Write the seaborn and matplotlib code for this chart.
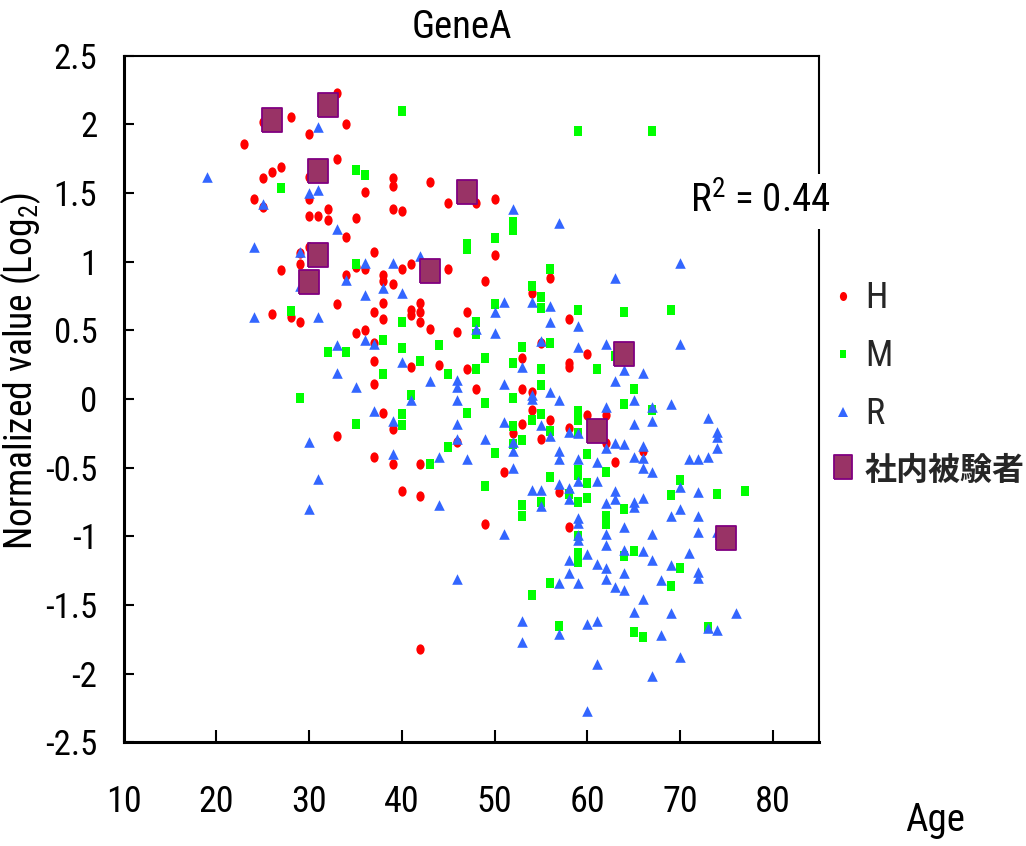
import numpy as np
import pandas as pd
import matplotlib
matplotlib.use("Agg")
import matplotlib.pyplot as plt
import seaborn as sns
from matplotlib.path import Path
from matplotlib.markers import MarkerStyle
from matplotlib.transforms import Affine2D
from matplotlib.lines import Line2D
from matplotlib.ticker import FuncFormatter
from matplotlib import font_manager as fm

# ---------------- data ----------------
h_age = [33, 25, 28, 34, 30, 23, 33, 30, 27, 26, 25, 30, 24, 25, 30, 31, 32, 32, 35, 34,
         30, 29, 29, 27, 35, 34, 26, 28, 29, 33, 35, 33, 39, 39, 36, 43, 48, 45, 50, 39,
         40, 50, 37, 36, 40, 41, 45, 38, 38, 39, 49, 56, 54, 38, 37, 38, 42, 41, 41, 42,
         42, 43, 47, 36, 46, 58, 37, 53, 55, 60, 37, 41, 44, 47, 58, 58, 37, 48, 53, 54,
         38, 39, 46, 53, 52, 54, 56, 55, 58, 60, 39, 37, 42, 51, 57, 40, 42, 49, 58, 42,
         62, 62, 66, 63]
h_val = [2.23, 2.02, 2.05, 2.00, 1.93, 1.86, 1.75, 1.62, 1.69, 1.65, 1.61, 1.46, 1.46, 1.40,
         1.33, 1.33, 1.38, 1.30, 1.32, 1.18, 1.11, 1.06, 0.98, 0.94, 0.96, 0.90, 0.62, 0.60,
         0.56, 0.69, 0.48, -0.27, 1.61, 1.55, 1.51, 1.58, 1.43, 1.43, 1.46, 1.38, 1.37, 1.05,
         1.07, 0.95, 0.95, 0.98, 0.95, 0.90, 0.86, 0.84, 0.86, 0.88, 0.77, 0.70, 0.63, 0.58,
         0.70, 0.65, 0.61, 0.63, 0.56, 0.51, 0.63, 0.50, 0.49, 0.58, 0.41, 0.30, 0.41, 0.33,
         0.28, 0.23, 0.25, 0.22, 0.26, 0.23, 0.11, 0.07, 0.07, 0.05, -0.10, -0.22, -0.31, -0.18,
         -0.25, -0.08, -0.15, -0.29, -0.21, -0.12, -0.47, -0.42, -0.47, -0.53, -0.68, -0.67,
         -0.71, -0.91, -0.93, -1.82, -0.12, -0.32, -0.38, -0.46]

m_age = [35, 27, 35, 28, 32, 34, 29, 35, 40, 59, 36, 52, 52, 50, 47, 47, 56, 54, 67, 55,
         55, 59, 50, 40, 48, 48, 38, 40, 44, 53, 56, 42, 49, 48, 52, 55, 38, 45, 52, 55,
         41, 49, 40, 40, 47, 45, 52, 52, 53, 54, 55, 56, 59, 59, 59, 43, 50, 60, 59, 59,
         56, 58, 60, 60, 59, 55, 49, 53, 53, 64, 69, 63, 61, 65, 64, 67, 62, 64, 70, 69,
         74, 77, 62, 62, 64, 65, 70, 69, 65, 66, 73, 59, 59, 59, 56, 54, 57]
m_val = [1.67, 1.54, 0.98, 0.64, 0.34, 0.34, 0.01, -0.18, 2.10, 1.95, 1.63, 1.29, 1.23, 1.17,
         1.13, 1.09, 0.95, 0.82, 1.95, 0.74, 0.66, 0.65, 0.69, 0.56, 0.56, 0.47, 0.43, 0.37,
         0.39, 0.38, 0.41, 0.28, 0.30, 0.22, 0.26, 0.22, 0.18, 0.18, 0.01, 0.10, 0.03, -0.03,
         -0.11, -0.19, -0.10, -0.35, -0.20, -0.33, -0.30, -0.15, -0.11, -0.23, -0.09, -0.15,
         -0.25, -0.47, -0.39, -0.40, -0.52, -0.55, -0.57, -0.69, -0.61, -0.72, -0.75, -0.75,
         -0.63, -0.77, -0.85, 0.63, 0.65, 0.31, 0.22, 0.07, -0.04, -0.08, -0.53, -0.80, -0.59,
         -0.70, -0.69, -0.67, -0.85, -0.91, -1.14, -1.11, -1.23, -1.36, -1.70, -1.73, -1.66,
         -1.00, -1.12, -1.19, -1.34, -1.43, -1.65]

r_age = [31, 19, 30, 31, 25, 33, 24, 29, 34, 29, 24, 31, 33, 33, 35, 30, 31, 30, 52, 57,
         36, 39, 42, 70, 63, 36, 38, 40, 54, 56, 51, 50, 48, 50, 56, 59, 36, 37, 55, 59,
         40, 53, 43, 46, 46, 51, 54, 54, 56, 57, 41, 46, 37, 39, 46, 46, 49, 51, 52, 52,
         55, 56, 58, 59, 39, 44, 47, 52, 57, 57, 59, 57, 54, 55, 58, 58, 59, 55, 44, 59,
         62, 64, 66, 70, 63, 65, 62, 67, 67, 69, 65, 62, 63, 64, 66, 65, 66, 66, 67, 61,
         73, 74, 74, 74, 71, 72, 73, 61, 63, 63, 62, 65, 65, 66, 70, 72, 70, 69, 72, 62,
         62, 64, 67, 72, 74, 60, 64, 66, 67, 71, 61, 62, 62, 64, 63, 64, 69, 68, 72, 72,
         66, 65, 69, 76, 60, 61, 68, 73, 74, 61, 70, 67, 60, 59, 59, 59, 51, 58, 58, 46,
         57, 59, 53, 53, 57]
r_val = [1.98, 1.62, 1.50, 1.52, 1.42, 1.24, 1.11, 1.07, 0.87, 0.82, 0.60, 0.60, 0.39, 0.19,
         0.09, -0.31, -0.58, -0.80, 1.38, 1.28, 0.99, 0.99, 1.04, 0.99, 0.88, 0.76, 0.81, 0.77,
         0.71, 0.68, 0.71, 0.63, 0.51, 0.48, 0.56, 0.53, 0.43, 0.40, 0.42, 0.38, 0.27, 0.23,
         0.13, 0.14, 0.09, 0.11, 0.03, 0.00, 0.05, -0.01, -0.01, -0.01, -0.09, -0.16, -0.18,
         -0.29, -0.29, -0.17, -0.31, -0.38, -0.19, -0.27, -0.24, -0.25, -0.40, -0.42, -0.44,
         -0.50, -0.38, -0.44, -0.44, -0.62, -0.66, -0.66, -0.65, -0.73, -0.60, -0.78, -0.77,
         -0.87, 0.40, 0.21, 0.19, 0.40, 0.13, -0.01, -0.06, -0.06, -0.16, -0.04, -0.18, -0.36,
         -0.32, -0.33, -0.34, -0.42, -0.43, -0.50, -0.53, -0.46, -0.14, -0.24, -0.28, -0.36,
         -0.44, -0.44, -0.42, -0.60, -0.67, -0.73, -0.76, -0.75, -0.79, -0.72, -0.64, -0.68,
         -0.80, -0.85, -0.85, -0.98, -1.06, -0.93, -0.98, -0.97, -0.97, -1.13, -1.10, -1.11,
         -1.17, -1.12, -1.20, -1.23, -1.31, -1.27, -1.37, -1.39, -1.21, -1.32, -1.26, -1.30,
         -1.46, -1.55, -1.56, -1.56, -1.64, -1.62, -1.72, -1.67, -1.68, -1.93, -1.88, -2.02,
         -2.27, -0.90, -0.99, -1.03, -0.98, -1.17, -1.27, -1.31, -1.34, -1.34, -1.62, -1.77,
         -1.71]

s_age = [26, 32, 31, 47, 31, 43, 30, 64, 61, 75]
s_val = [2.03, 2.14, 1.66, 1.51, 1.05, 0.93, 0.85, 0.33, -0.23, -1.01]

group_names = ["H", "M", "R", "社内被験者"]
r2_text = "R$^2$ = 0.44"
title_text = "GeneA"
xlabel_text = "Age"
ylabel_text = "Normalized value (Log$_2$)"
x_ticks = [10, 20, 30, 40, 50, 60, 70, 80]
y_ticks = [-2.5, -2, -1.5, -1, -0.5, 0, 0.5, 1, 1.5, 2, 2.5]

# ---------------- style ----------------
sns.set_theme(style="white")

# look for a narrow / condensed sans face (the reference uses a narrow font)
named_narrow = ["Liberation Sans Narrow", "Arial Narrow", "Roboto Condensed",
                "Noto Sans Condensed", "Open Sans Condensed", "DejaVu Sans Condensed",
                "Noto Sans Display Condensed"]
names = {f.name for f in fm.fontManager.ttflist}
base, stretch = None, "normal"
for n in named_narrow:
    if n in names:
        base = n
        break
if base is None:
    for fam in ["DejaVu Sans", "Noto Sans", "Roboto", "Open Sans", "Lato", "Inter"]:
        if any(f.name == fam and str(f.stretch) in ("condensed", "semi-condensed",
                                                   "extra-condensed") for f in fm.fontManager.ttflist):
            base, stretch = fam, "condensed"
            break
if base is None:
    base = "Liberation Sans" if "Liberation Sans" in names else "DejaVu Sans"
    k = 0.84
else:
    k = 1.0

plt.rcParams["font.family"] = [base, "Noto Sans CJK JP", "DejaVu Sans"]
plt.rcParams["font.stretch"] = stretch
plt.rcParams["mathtext.fontset"] = "custom"
plt.rcParams["mathtext.rm"] = base
plt.rcParams["mathtext.it"] = base
plt.rcParams["mathtext.bf"] = base
plt.rcParams["mathtext.default"] = "rm"
plt.rcParams["axes.unicode_minus"] = False

fs_y = 25 * k      # y tick labels
fs_x = 26 * k      # x tick labels
fs_leg = 26 * k
fs_r2 = 28 * k
fs_title = 28 * k
fs_age = 28 * k
fs_ylab = 27 * k

RED = "#FF0000"
GREEN = "#00FF00"
BLUE = "#3366FF"
PURPLE = "#993366"
PURPLE_EDGE = "#800080"

ell = MarkerStyle(Path.unit_circle().transformed(Affine2D().scale(0.8, 1.0)))
rect_g = MarkerStyle([(-0.8, -1), (0.8, -1), (0.8, 1), (-0.8, 1), (-0.8, -1)])
rect_p = MarkerStyle([(-0.79, -1), (0.79, -1), (0.79, 1), (-0.79, 1), (-0.79, -1)])

df_h = pd.DataFrame({"age": h_age, "val": h_val})
df_m = pd.DataFrame({"age": m_age, "val": m_val})
df_r = pd.DataFrame({"age": r_age, "val": r_val})
df_s = pd.DataFrame({"age": s_age, "val": s_val})

fig = plt.figure(figsize=(10.26, 8.46), dpi=100)
ax = fig.add_axes([123.8 / 1026, 1 - 742.3 / 846, 695.2 / 1026, 686.6 / 846])
ax.set_facecolor("white")

sns.scatterplot(data=df_h, x="age", y="val", ax=ax, marker=ell, s=55, color=RED,
                linewidth=0, legend=False, zorder=3)
sns.scatterplot(data=df_m, x="age", y="val", ax=ax, marker=rect_g, s=52, color=GREEN,
                linewidth=0, legend=False, zorder=3)
sns.scatterplot(data=df_r, x="age", y="val", ax=ax, marker="^", s=58, color=BLUE,
                linewidth=0, legend=False, zorder=3)
sns.scatterplot(data=df_s, x="age", y="val", ax=ax, marker=rect_p, s=300, color=PURPLE,
                edgecolor=PURPLE_EDGE, linewidth=1.3, legend=False, zorder=4)

ax.set_xlim(10, 85)
ax.set_ylim(-2.5, 2.5)
ax.set_xticks(x_ticks)
ax.set_yticks(y_ticks)
ax.xaxis.set_major_formatter(FuncFormatter(lambda v, p: "%g" % v))
ax.yaxis.set_major_formatter(FuncFormatter(lambda v, p: "%g" % v))
ax.set_xlabel("")
ax.set_ylabel("")
ax.tick_params(axis="x", direction="in", length=9, width=1.5, pad=30,
               labelsize=fs_x, colors="black", bottom=True)
ax.tick_params(axis="y", direction="in", length=7, width=1.5, pad=19,
               labelsize=fs_y, colors="black", left=True)
for side in ["left", "bottom"]:
    ax.spines[side].set_linewidth(2.2)
    ax.spines[side].set_color("black")
for side in ["top", "right"]:
    ax.spines[side].set_linewidth(1.5)
    ax.spines[side].set_color("black")
ax.grid(False)

ax.text(0.815, 0.788, r2_text, transform=ax.transAxes, ha="left", va="center",
        fontsize=fs_r2, color="black", zorder=10, clip_on=False,
        bbox=dict(facecolor="white", edgecolor="none", pad=6))

fig.text(462 / 1026, 1 - 28 / 846, title_text, ha="center", va="center",
         fontsize=fs_title, color="black")
fig.text(935 / 1026, 1 - 820 / 846, xlabel_text, ha="center", va="center",
         fontsize=fs_age, color="black")
fig.text(21 / 1026, 1 - 371 / 846, ylabel_text, ha="center", va="center",
         rotation=90, fontsize=fs_ylab, color="black")

fs_px = fs_leg / 72 * 100
handles = [
    Line2D([], [], linestyle="none", marker=ell, markersize=6.5, color=RED, markeredgewidth=0),
    Line2D([], [], linestyle="none", marker=rect_g, markersize=6, color=GREEN, markeredgewidth=0),
    Line2D([], [], linestyle="none", marker="^", markersize=6.5, color=BLUE, markeredgewidth=0),
    Line2D([], [], linestyle="none", marker=rect_p, markersize=17, markerfacecolor=PURPLE,
           markeredgecolor=PURPLE_EDGE, markeredgewidth=1.3),
]
row_h = 0.97 * fs_px
spacing = max(0.2, (57 - row_h) / fs_px)
leg = ax.legend(handles, group_names, loc="upper left",
                bbox_to_anchor=(826 / 1026, 1 - (298 - row_h / 2) / 846),
                bbox_transform=fig.transFigure,
                frameon=False, borderpad=0, borderaxespad=0,
                handlelength=34.0 / fs_px, handletextpad=5.0 / fs_px,
                labelspacing=spacing, fontsize=fs_leg)
t = leg.get_texts()[3]
t.set_fontfamily(["Noto Sans CJK JP", "DejaVu Sans"])
t.set_fontweight("bold")
t.set_fontsize(23)

fig.savefig("out.png", dpi=100, facecolor="white")
